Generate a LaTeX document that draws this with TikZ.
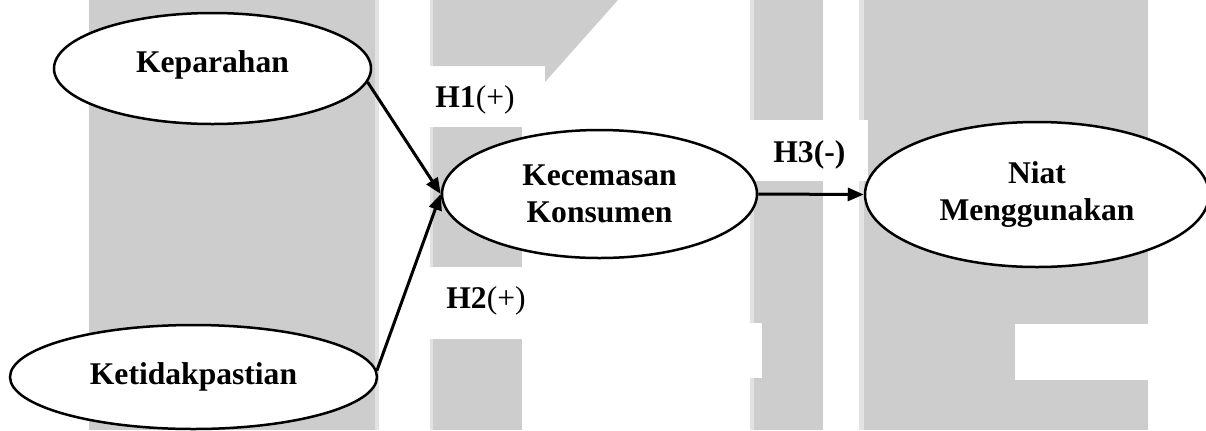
\documentclass[tikz,border=0pt]{standalone}
\usepackage{fontspec}
\setmainfont{Liberation Serif}
\usetikzlibrary{shapes.geometric,arrows.meta}
\definecolor{wmgrey}{RGB}{205,205,205}
\definecolor{wmedge}{RGB}{226,226,226}
\begin{document}
\begin{tikzpicture}[x=0.5pt,y=-0.5pt,
  every node/.style={font=\fontsize{15.8pt}{18.75pt}\selectfont\bfseries},
  construct/.style={draw,ellipse,fill=white,line width=1.25pt,inner sep=0pt,align=center},
  link/.style={-{Triangle[length=8pt,width=6.5pt]},line width=1.5pt},
  hyp/.style={anchor=base west,inner sep=0pt}]
\useasboundingbox (0,0) rectangle (1206,430);
\clip (0,0) rectangle (1206,430);

% background watermark blocks
\fill[wmgrey] (89,0) rectangle (375,430);
\fill[wmedge] (375,0) rectangle (379,430);
\fill[wmgrey] (430,0) -- (618,0) -- (545,82) -- (545,66) -- (430,66) -- cycle;
\fill[wmgrey] (430,127) rectangle (522,267);
\fill[wmgrey] (430,339) rectangle (522,430);
\fill[wmedge] (430,0) rectangle (433,66);
\fill[wmedge] (430,127) rectangle (433,267);
\fill[wmedge] (430,339) rectangle (433,430);
\fill[wmgrey] (750,0) rectangle (823,430);
\fill[wmedge] (750,0) rectangle (754,430);
\fill[wmgrey] (859,0) rectangle (1148,430);
\fill[wmedge] (859,0) rectangle (864,430);
\fill[white] (750,120) rectangle (868,181);
\fill[white] (740,323) rectangle (762,378);
\fill[white] (1015,324) rectangle (1148,380);

% constructs
\node[construct,minimum width=158.5pt,minimum height=55.5pt,text depth=7pt]
  (kep) at (212.5,68.5) {Keparahan};
\node[construct,minimum width=183.5pt,minimum height=52pt]
  (ket) at (193.5,377) {Ketidakpastian};
\node[construct,minimum width=157.5pt,minimum height=64pt]
  (kec) at (599.5,194) {Kecemasan\\Konsumen};
\node[construct,minimum width=172pt,minimum height=72.5pt]
  (niat) at (1037,194.5) {Niat\\Menggunakan};

% hypotheses
\draw[link] (kep.-5) -- (kec.west);
\draw[link] (ket.2) -- (kec.west);
\draw[link] (kec.east) -- (niat.west);

\node[hyp] (h1) at (435,107) {H1\textmd{(+)}};
\node[hyp] (h2) at (446,308) {H2\textmd{(+)}};
\node[hyp] (h3) at (773,162) {H3(-)};
\end{tikzpicture}
\end{document}
